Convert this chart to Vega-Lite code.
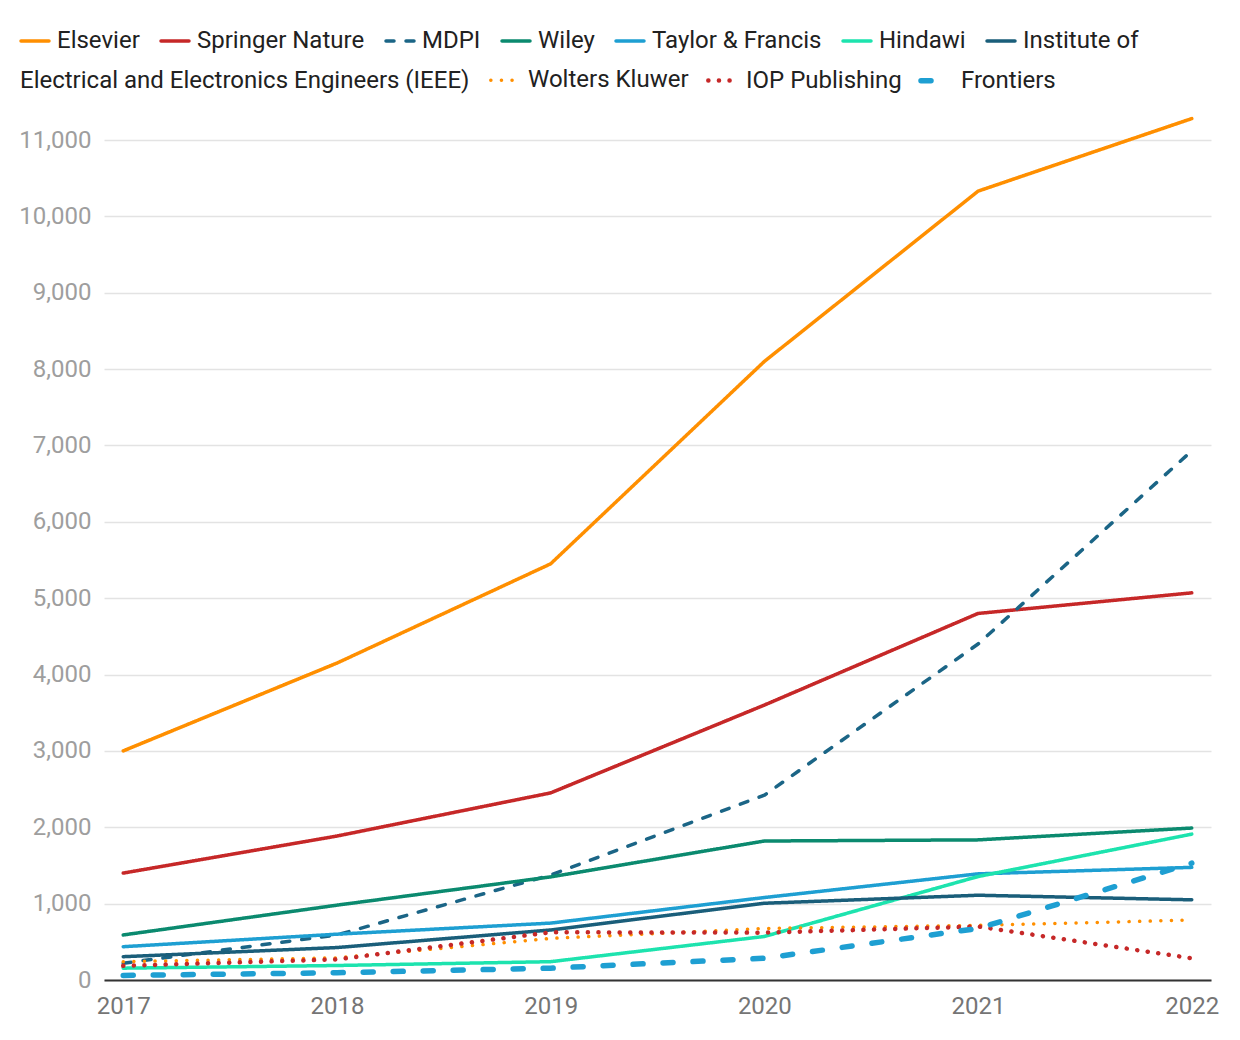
{
  "$schema": "https://vega.github.io/schema/vega-lite/v6.json",
  "description": "Publisher counts 2017-2022",
  "autosize": {"type": "none"},
  "padding": {"left": 104, "top": 140, "right": 29, "bottom": 60},
  "width": 1107,
  "height": 840,
  "background": "white",
  "config": {
    "view": {"stroke": null},
    "font": "Roboto",
    "axis": {"labelFont": "Roboto", "labelFontSize": 24, "title": null},
    "legend": {
      "labelFont": "Roboto",
      "labelFontSize": 24,
      "labelColor": "#212121",
      "padding": 0,
      "symbolType": "stroke",
      "symbolSize": 961,
      "labelOffset": 7,
      "columnPadding": 11,
      "labelLimit": 700
    }
  },
  "datasets": {
    "main": [
      {"publisher": "Elsevier", "year": 2017, "count": 3000},
      {"publisher": "Elsevier", "year": 2018, "count": 4150},
      {"publisher": "Elsevier", "year": 2019, "count": 5450},
      {"publisher": "Elsevier", "year": 2020, "count": 8100},
      {"publisher": "Elsevier", "year": 2021, "count": 10330},
      {"publisher": "Elsevier", "year": 2022, "count": 11280},
      {"publisher": "Springer Nature", "year": 2017, "count": 1400},
      {"publisher": "Springer Nature", "year": 2018, "count": 1885},
      {"publisher": "Springer Nature", "year": 2019, "count": 2450},
      {"publisher": "Springer Nature", "year": 2020, "count": 3600},
      {"publisher": "Springer Nature", "year": 2021, "count": 4800},
      {"publisher": "Springer Nature", "year": 2022, "count": 5070},
      {"publisher": "MDPI", "year": 2017, "count": 220},
      {"publisher": "MDPI", "year": 2018, "count": 590},
      {"publisher": "MDPI", "year": 2019, "count": 1375},
      {"publisher": "MDPI", "year": 2020, "count": 2420},
      {"publisher": "MDPI", "year": 2021, "count": 4400},
      {"publisher": "MDPI", "year": 2022, "count": 6930},
      {"publisher": "Wiley", "year": 2017, "count": 590},
      {"publisher": "Wiley", "year": 2018, "count": 980},
      {"publisher": "Wiley", "year": 2019, "count": 1350},
      {"publisher": "Wiley", "year": 2020, "count": 1820},
      {"publisher": "Wiley", "year": 2021, "count": 1835},
      {"publisher": "Wiley", "year": 2022, "count": 1990},
      {"publisher": "Taylor & Francis", "year": 2017, "count": 436},
      {"publisher": "Taylor & Francis", "year": 2018, "count": 600},
      {"publisher": "Taylor & Francis", "year": 2019, "count": 745},
      {"publisher": "Taylor & Francis", "year": 2020, "count": 1080},
      {"publisher": "Taylor & Francis", "year": 2021, "count": 1390},
      {"publisher": "Taylor & Francis", "year": 2022, "count": 1475},
      {"publisher": "Hindawi", "year": 2017, "count": 155},
      {"publisher": "Hindawi", "year": 2018, "count": 190},
      {"publisher": "Hindawi", "year": 2019, "count": 240},
      {"publisher": "Hindawi", "year": 2020, "count": 570},
      {"publisher": "Hindawi", "year": 2021, "count": 1355},
      {"publisher": "Hindawi", "year": 2022, "count": 1910},
      {"publisher": "Institute of Electrical and Electronics Engineers (IEEE)", "year": 2017, "count": 305},
      {"publisher": "Institute of Electrical and Electronics Engineers (IEEE)", "year": 2018, "count": 425},
      {"publisher": "Institute of Electrical and Electronics Engineers (IEEE)", "year": 2019, "count": 655},
      {"publisher": "Institute of Electrical and Electronics Engineers (IEEE)", "year": 2020, "count": 1005},
      {"publisher": "Institute of Electrical and Electronics Engineers (IEEE)", "year": 2021, "count": 1110},
      {"publisher": "Institute of Electrical and Electronics Engineers (IEEE)", "year": 2022, "count": 1050}
    ],
    "extra": [
      {"publisher": "Wolters Kluwer", "year": 2017, "count": 240},
      {"publisher": "Wolters Kluwer", "year": 2018, "count": 290},
      {"publisher": "Wolters Kluwer", "year": 2019, "count": 545},
      {"publisher": "Wolters Kluwer", "year": 2020, "count": 675},
      {"publisher": "Wolters Kluwer", "year": 2021, "count": 715},
      {"publisher": "Wolters Kluwer", "year": 2022, "count": 785},
      {"publisher": "IOP Publishing", "year": 2017, "count": 185},
      {"publisher": "IOP Publishing", "year": 2018, "count": 270},
      {"publisher": "IOP Publishing", "year": 2019, "count": 625},
      {"publisher": "IOP Publishing", "year": 2020, "count": 620},
      {"publisher": "IOP Publishing", "year": 2021, "count": 700},
      {"publisher": "IOP Publishing", "year": 2022, "count": 285},
      {"publisher": "Frontiers", "year": 2017, "count": 60},
      {"publisher": "Frontiers", "year": 2018, "count": 95},
      {"publisher": "Frontiers", "year": 2019, "count": 155},
      {"publisher": "Frontiers", "year": 2020, "count": 285},
      {"publisher": "Frontiers", "year": 2021, "count": 675},
      {"publisher": "Frontiers", "year": 2022, "count": 1530}
    ]
  },
  "encoding": {
    "x": {
      "field": "year",
      "type": "quantitative",
      "scale": {"domain": [2016.91, 2022.09], "nice": false, "zero": false},
      "axis": {
        "values": [2017, 2018, 2019, 2020, 2021, 2022],
        "format": "d",
        "grid": false,
        "ticks": false,
        "labelFlush": false,
        "labelPadding": 14,
        "labelColor": "#757575",
        "domainColor": "#333333",
        "domainWidth": 2
      }
    },
    "y": {
      "field": "count",
      "type": "quantitative",
      "scale": {"domain": [0, 11000], "nice": false},
      "axis": {
        "values": [0, 1000, 2000, 3000, 4000, 5000, 6000, 7000, 8000, 9000, 10000, 11000],
        "format": ",d",
        "domain": false,
        "ticks": false,
        "labelPadding": 13,
        "labelColor": "#9e9e9e",
        "gridColor": "#e3e3e3",
        "gridWidth": 1.5
      }
    }
  },
  "layer": [
    {
      "data": {"name": "main"},
      "mark": {"type": "line", "strokeCap": "round", "strokeJoin": "round"},
      "encoding": {
        "color": {
          "field": "publisher",
          "type": "nominal",
          "scale": {
            "domain": ["Elsevier", "Springer Nature", "MDPI", "Wiley", "Taylor & Francis", "Hindawi", "Institute of Electrical and Electronics Engineers (IEEE)"],
            "range": ["#FF8F00", "#C62828", "#1B6586", "#0B8A6F", "#1E9FD2", "#1DE3AE", "#1A5E7A"]
          },
          "legend": {
            "orient": "none",
            "direction": "horizontal",
            "legendX": -85,
            "legendY": -115,
            "symbolSize": 784,
            "labelOffset": 6,
            "columnPadding": 14,
            "title": null,
            "labelExpr": "datum.label == 'Institute of Electrical and Electronics Engineers (IEEE)' ? 'Institute of' : datum.label",
            "encode": {"symbols": {"update": {"strokeCap": {"value": "round"}}}}
          }
        },
        "strokeDash": {
          "field": "publisher",
          "type": "nominal",
          "scale": {
            "domain": ["Elsevier", "Springer Nature", "MDPI", "Wiley", "Taylor & Francis", "Hindawi", "Institute of Electrical and Electronics Engineers (IEEE)"],
            "range": [[1, 0], [1, 0], [8, 12], [1, 0], [1, 0], [1, 0], [1, 0]]
          }
        },
        "strokeWidth": {
          "field": "publisher",
          "type": "nominal",
          "scale": {
            "domain": ["Elsevier", "Springer Nature", "MDPI", "Wiley", "Taylor & Francis", "Hindawi", "Institute of Electrical and Electronics Engineers (IEEE)"],
            "range": [3.5, 3.5, 5, 3.5, 3.5, 3.5, 3.5]
          }
        }
      }
    },
    {
      "data": {"name": "extra"},
      "mark": {"type": "line", "strokeCap": "round", "strokeJoin": "round"},
      "encoding": {
        "color": {
          "field": "publisher",
          "type": "nominal",
          "scale": {
            "domain": ["Wolters Kluwer", "IOP Publishing", "Frontiers"],
            "range": ["#FF8F00", "#C62828", "#1E9FD2"]
          },
          "legend": {
            "orient": "none",
            "direction": "horizontal",
            "legendX": -84,
            "legendY": -78,
            "columnPadding": 7,
            "symbolDashOffset": 29,
            "title": "Electrical and Electronics Engineers (IEEE)",
            "titleOrient": "left",
            "titleFont": "Roboto",
            "titleFontSize": 24,
            "titleFontWeight": "normal",
            "titleColor": "#212121",
            "titlePadding": 16,
            "titleLimit": 700,
            "encode": {
              "symbols": {"update": {"strokeCap": {"value": "round"}}},
              "title": {"update": {"dy": {"value": 3.5}}}
            }
          }
        },
        "strokeDash": {
          "field": "publisher",
          "type": "nominal",
          "scale": {
            "domain": ["Wolters Kluwer", "IOP Publishing", "Frontiers"],
            "range": [[0.1, 10.5], [0.1, 10.5], [10, 20]]
          }
        },
        "strokeWidth": {
          "field": "publisher",
          "type": "nominal",
          "scale": {
            "domain": ["Wolters Kluwer", "IOP Publishing", "Frontiers"],
            "range": [3.5, 5.5, 8]
          }
        }
      }
    }
  ],
  "resolve": {
    "scale": {"color": "independent", "strokeDash": "independent", "strokeWidth": "independent"},
    "legend": {"color": "independent", "strokeDash": "independent", "strokeWidth": "independent"}
  }
}
